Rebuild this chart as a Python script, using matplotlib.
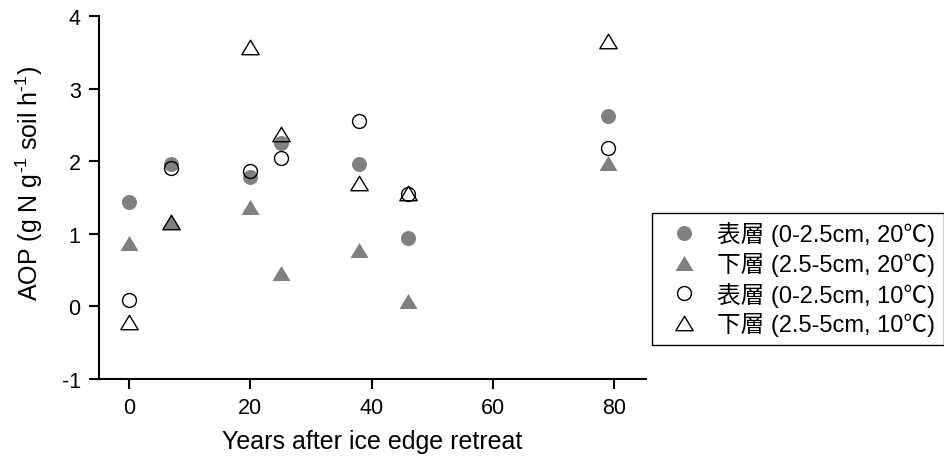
import matplotlib
matplotlib.use("Agg")
import matplotlib.pyplot as plt
from matplotlib.path import Path

plt.rcParams['font.family'] = ['Liberation Sans', 'Noto Sans CJK JP']
plt.rcParams['mathtext.fontset'] = 'custom'
plt.rcParams['mathtext.rm'] = 'Liberation Sans'
plt.rcParams['mathtext.it'] = 'Liberation Sans:italic'
plt.rcParams['axes.unicode_minus'] = False

# years after ice edge retreat
years = [0, 7, 20, 25, 38, 46, 79]

# AOP values
top_20 = [1.44, 1.96, 1.78, 2.25, 1.96, 0.94, 2.62]
sub_20 = [0.88, 1.16, 1.37, 0.46, 0.78, 0.08, 1.98]
top_10 = [0.09, 1.91, 1.87, 2.05, 2.56, 1.55, 2.18]
sub_10 = [-0.22, 1.16, 3.57, 2.38, 1.70, 1.56, 3.65]

labels = ['表層 (0-2.5cm, 20℃)', '下層 (2.5-5cm, 20℃)',
          '表層 (0-2.5cm, 10℃)', '下層 (2.5-5cm, 10℃)']

grey = '#808080'
# wide flat triangle like the original
tri = Path([(-0.6, -0.5), (0.6, -0.5), (0, 0.5), (-0.6, -0.5)], closed=True)

fig = plt.figure(figsize=(9.45, 4.64), dpi=100)
ax = fig.add_axes([99 / 945, 1 - 380 / 464, (646 - 99) / 945, (380 - 17) / 464])

ax.plot(years, top_20, ls='none', marker='o', ms=10.8, mfc=grey, mec='none', label=labels[0])
ax.plot(years, sub_20, ls='none', marker=tri, ms=13, mfc=grey, mec='none', label=labels[1])
ax.plot(years, top_10, ls='none', marker='o', ms=10, mfc='none', mec='black', mew=1.0, label=labels[2])
ax.plot(years, sub_10, ls='none', marker=tri, ms=12.5, mfc='none', mec='black', mew=1.0, label=labels[3])

ax.set_xlim(-4.9, 85.2)
ax.set_ylim(-1, 4)
ax.set_xticks([0, 20, 40, 60, 80])
ax.set_yticks([-1, 0, 1, 2, 3, 4])

for s in ['top', 'right']:
    ax.spines[s].set_visible(False)
for s in ['left', 'bottom']:
    ax.spines[s].set_linewidth(1.5)

ax.tick_params(direction='out', length=7.2, width=1.5, labelsize=15.5, pad=6)

ax.set_xlabel('Years after ice edge retreat', fontsize=18, labelpad=8)
ax.set_ylabel(r'AOP (g N g$^{\text{-}1}$ soil h$^{\text{-}1}$)', fontsize=18, labelpad=12, y=0.54)

leg = fig.legend(loc='upper left', bbox_to_anchor=(652 / 945, 1 - 214 / 464),
                 borderaxespad=0, fontsize=17, frameon=True, fancybox=False,
                 handletextpad=0.4, labelspacing=0.24, borderpad=0.36)
leg.get_frame().set_edgecolor('black')
leg.get_frame().set_linewidth(1.0)
leg.get_frame().set_alpha(1)

fig.savefig('out.png', dpi=100)
